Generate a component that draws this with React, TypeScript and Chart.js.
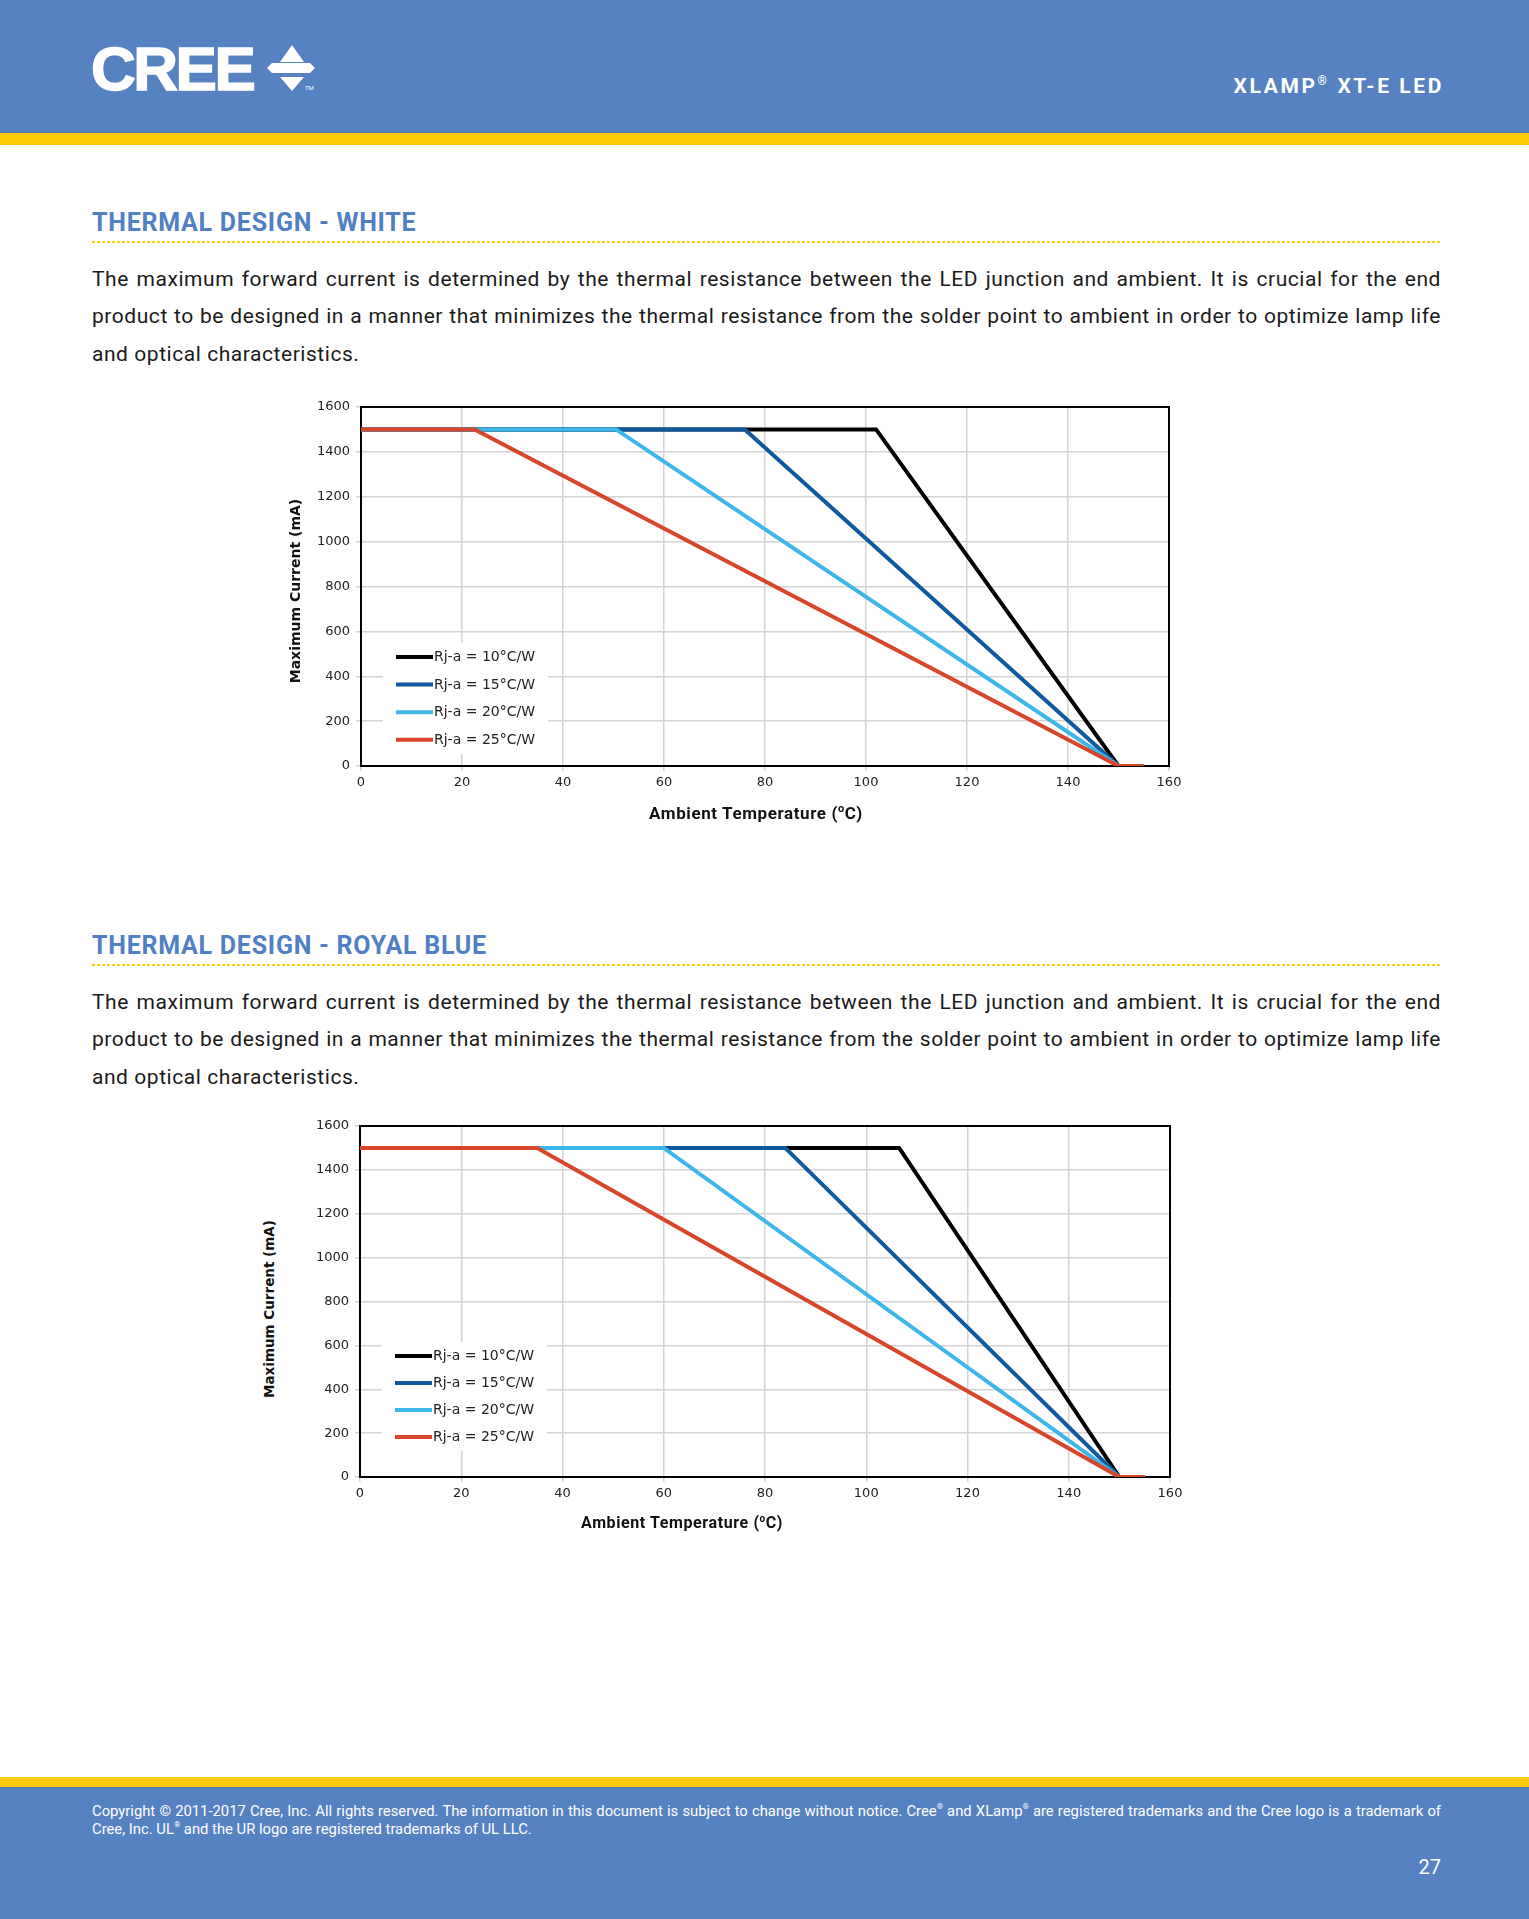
import React, { useEffect, useRef } from "react";
import { Chart, registerables } from "chart.js";

Chart.register(...registerables);

// ---------- data ----------
const SERIES_LABELS = ["Rj-a = 10°C/W", "Rj-a = 15°C/W", "Rj-a = 20°C/W", "Rj-a = 25°C/W"];
const SERIES_COLORS = ["#000000", "#0f5a9e", "#3db6ea", "#d8462a"];

// current limit profile (mA) shared by every curve: flat at max, then derated to 0
const LIMIT_CURRENT = [1500, 1500, 0, 0];

// White: ambient temperature (°C) break points
const WHITE_R10_T = [0, 102, 150, 155];
const WHITE_R15_T = [0, 76, 150, 155];
const WHITE_R20_T = [0, 50.5, 150, 155];
const WHITE_R25_T = [0, 22.5, 150, 155];

// Royal blue: ambient temperature (°C) break points
const ROYAL_R10_T = [0, 106.5, 150, 155];
const ROYAL_R15_T = [0, 84, 150, 155];
const ROYAL_R20_T = [0, 60, 150, 155];
const ROYAL_R25_T = [0, 35, 150, 155];

const X_MIN = 0;
const X_MAX = 160;
const X_STEP = 20;
const Y_MIN = 0;
const Y_MAX = 1600;
const Y_STEP = 200;

// ---------- styles ----------
const HEADER_BLUE = "#5682c2";
const YELLOW = "#ffcc06";
const TITLE_BLUE = "#5080c3";
const GRID = "#d4d4d4";

const frameplugin = {
  id: "frame",
  beforeDatasetsDraw(chart: any) {
    const { ctx, chartArea } = chart;
    ctx.save();
    ctx.strokeStyle = "#000";
    ctx.lineWidth = 2;
    ctx.strokeRect(chartArea.left, chartArea.top, chartArea.right - chartArea.left, chartArea.bottom - chartArea.top);
    ctx.restore();
  },
};

const insideLegend = {
  id: "insideLegend",
  afterDatasetsDraw(chart: any, _args: any, opts: any) {
    const { ctx, chartArea } = chart;
    const left = chartArea.left;
    const row1 = chartArea.bottom - opts.offsetBottom;
    const sp = opts.spacing;
    const n = chart.data.datasets.length;
    ctx.save();
    ctx.fillStyle = "#ffffff";
    ctx.fillRect(left + 22, row1 - 14, 165, (n - 1) * sp + 28);
    chart.data.datasets.forEach((ds: any, i: number) => {
      const y = row1 + i * sp;
      ctx.strokeStyle = ds.borderColor;
      ctx.lineWidth = 4;
      ctx.lineCap = "butt";
      ctx.beginPath();
      ctx.moveTo(left + 35, y);
      ctx.lineTo(left + 72, y);
      ctx.stroke();
      ctx.fillStyle = "#222";
      ctx.font = '14px "DejaVu Sans"';
      ctx.textBaseline = "middle";
      ctx.textAlign = "left";
      ctx.fillText(ds.label, left + 73, y + 0.5);
    });
    ctx.restore();
  },
};

type Geom = {
  left: number;
  top: number;
  width: number;
  height: number;
  padTop: number;
  padRight: number;
  yAxisW: number;
  xAxisH: number;
  legendOffset: number;
  legendSpacing: number;
};

function ThermalChart({ temps, geom }: { temps: number[][]; geom: Geom }) {
  const ref = useRef<HTMLCanvasElement | null>(null);
  useEffect(() => {
    if (!ref.current) return;
    const tickFont = { family: '"DejaVu Sans"', size: 13 };
    const chart = new Chart(ref.current, {
      type: "scatter",
      data: {
        datasets: temps.map((t, i) => ({
          label: SERIES_LABELS[i],
          data: t.map((x, j) => ({ x, y: LIMIT_CURRENT[j] })),
          showLine: true,
          borderColor: SERIES_COLORS[i],
          backgroundColor: SERIES_COLORS[i],
          borderWidth: 4,
          pointRadius: 0,
          tension: 0,
          order: 4 - i,
        })),
      },
      options: {
        responsive: false,
        animation: false,
        events: [],
        layout: { padding: { left: 0, top: geom.padTop, right: geom.padRight, bottom: 0 } },
        plugins: {
          legend: { display: false },
          tooltip: { enabled: false },
          insideLegend: { offsetBottom: geom.legendOffset, spacing: geom.legendSpacing },
        } as any,
        scales: {
          x: {
            type: "linear",
            min: X_MIN,
            max: X_MAX,
            ticks: {
              stepSize: X_STEP,
              font: tickFont,
              color: "#222",
              padding: 4,
              maxRotation: 0,
              autoSkip: false,
              callback: (v: any) => String(v),
            },
            grid: { color: GRID, lineWidth: 1.5, tickLength: 5 },
            border: { display: false },
            afterFit: (s: any) => {
              s.height = geom.xAxisH;
            },
          },
          y: {
            type: "linear",
            min: Y_MIN,
            max: Y_MAX,
            ticks: { stepSize: Y_STEP, font: tickFont, color: "#222", padding: 6, callback: (v: any) => String(v) },
            grid: { color: GRID, lineWidth: 1.5, tickLength: 5 },
            border: { display: false },
            afterFit: (s: any) => {
              s.width = geom.yAxisW;
            },
          },
        },
      },
      plugins: [frameplugin, insideLegend],
    } as any);
    return () => chart.destroy();
  }, []);
  return (
    <div style={{ position: "absolute", left: geom.left, top: geom.top, width: geom.width, height: geom.height }}>
      <canvas ref={ref} width={geom.width} height={geom.height} style={{ display: "block", width: geom.width, height: geom.height }} />
    </div>
  );
}

const PARA_LINES = [
  "The maximum forward current is determined by the thermal resistance between the LED junction and ambient. It is crucial for the end",
  "product to be designed in a manner that minimizes the thermal resistance from the solder point to ambient in order to optimize lamp life",
  "and optical characteristics.",
];

function Section({ dy, title }: { dy: number; title: string }) {
  return (
    <>
      <div
        style={{
          position: "absolute",
          left: 92,
          top: 208 + dy,
          lineHeight: "30px",
          fontSize: 25,
          fontWeight: 700,
          color: TITLE_BLUE,
          whiteSpace: "nowrap",
          letterSpacing: 0.75,
        }}
      >
        {title}
      </div>
      <div
        style={{
          position: "absolute",
          left: 92,
          top: 241 + dy,
          width: 1349,
          height: 2,
          background: `repeating-linear-gradient(to right, ${YELLOW} 0px, ${YELLOW} 3px, transparent 3px, transparent 5px)`,
        }}
      />
      {PARA_LINES.map((l, i) => (
        <div
          key={i}
          style={{
            position: "absolute",
            left: 92,
            top: 261 + dy + i * 37.3,
            width: 1349,
            lineHeight: "37px",
            fontSize: 21,
            letterSpacing: 0.55,
            color: "#1a1a1a",
            whiteSpace: "nowrap",
            textAlign: "justify",
            textAlignLast: i < 2 ? "justify" : "left",
          }}
        >
          {l}
        </div>
      ))}
    </>
  );
}

const supStyle = { fontSize: 8, verticalAlign: "top", lineHeight: "10px" } as const;

export default function App() {
  const g1: Geom = {
    left: 280, top: 390, width: 920, height: 450,
    padTop: 17, padRight: 31, yAxisW: 81, xAxisH: 74,
    legendOffset: 109, legendSpacing: 27.6,
  };
  const g2: Geom = {
    left: 280, top: 1110, width: 920, height: 450,
    padTop: 16, padRight: 30, yAxisW: 80, xAxisH: 83,
    legendOffset: 121, legendSpacing: 27,
  };
  return (
    <div
      style={{
        position: "absolute",
        left: 0,
        top: 0,
        width: 1529,
        height: 1919,
        background: "#fff",
        overflow: "hidden",
        fontFamily: "Roboto, sans-serif",
      }}
    >
      {/* header */}
      <div style={{ position: "absolute", left: 0, top: 0, width: 1529, height: 133, background: HEADER_BLUE }} />
      <div style={{ position: "absolute", left: 0, top: 133, width: 1529, height: 12, background: YELLOW }} />
      <div
        style={{
          position: "absolute",
          left: 91,
          top: 38,
          lineHeight: "62px",
          fontFamily: '"Liberation Sans", Arial, sans-serif',
          fontWeight: 700,
          fontSize: 62,
          letterSpacing: -2.5,
          color: "#fff",
          WebkitTextStroke: "1.5px #fff",
        }}
      >
        CREE
      </div>
      <svg style={{ position: "absolute", left: 260, top: 40 }} width={60} height={56}>
        <polygon points="32,5 20,22 44,22" fill="#fff" />
        <polygon points="7,28 12,23 50,23 55,28 50,33 12,33" fill="#fff" />
        <polygon points="20,37 44,37 32,51" fill="#fff" />
        <text x={45} y={50} fontSize={6} fill="#fff" fontFamily="Roboto">TM</text>
      </svg>
      <div
        style={{
          position: "absolute",
          right: 85,
          top: 74,
          lineHeight: "24px",
          fontSize: 21,
          fontWeight: 700,
          letterSpacing: 2.6,
          color: "#fff",
          whiteSpace: "nowrap",
        }}
      >
        XLAMP<sup style={{ fontSize: 12, verticalAlign: "top", lineHeight: "14px" }}>®</sup> XT-E LED
      </div>

      <Section dy={0} title="THERMAL DESIGN - WHITE" />
      <ThermalChart temps={[WHITE_R10_T, WHITE_R15_T, WHITE_R20_T, WHITE_R25_T]} geom={g1} />
      <div
        style={{
          position: "absolute",
          left: 295 - 150,
          top: 591 - 10,
          width: 300,
          lineHeight: "20px",
          textAlign: "center",
          fontFamily: '"DejaVu Sans"',
          fontWeight: 700,
          fontSize: 14,
          color: "#111",
          transform: "rotate(-90deg)",
          whiteSpace: "nowrap",
        }}
      >
        Maximum Current (mA)
      </div>
      <div
        style={{
          position: "absolute",
          left: 756 - 150,
          top: 813 - 11,
          width: 300,
          lineHeight: "22px",
          textAlign: "center",
          fontWeight: 700,
          fontSize: 17,
          letterSpacing: 0.6,
          color: "#111",
          whiteSpace: "nowrap",
        }}
      >
        Ambient Temperature (<sup style={{ fontSize: 11, verticalAlign: "top", lineHeight: "14px" }}>o</sup>C)
      </div>

      <Section dy={723} title="THERMAL DESIGN - ROYAL BLUE" />
      <ThermalChart temps={[ROYAL_R10_T, ROYAL_R15_T, ROYAL_R20_T, ROYAL_R25_T]} geom={g2} />
      <div
        style={{
          position: "absolute",
          left: 269 - 150,
          top: 1309 - 10,
          width: 300,
          lineHeight: "20px",
          textAlign: "center",
          fontFamily: '"DejaVu Sans"',
          fontWeight: 700,
          fontSize: 13.5,
          color: "#111",
          transform: "rotate(-90deg)",
          whiteSpace: "nowrap",
        }}
      >
        Maximum Current (mA)
      </div>
      <div
        style={{
          position: "absolute",
          left: 682 - 150,
          top: 1523 - 11,
          width: 300,
          lineHeight: "22px",
          textAlign: "center",
          fontWeight: 700,
          fontSize: 16,
          letterSpacing: 0.6,
          color: "#111",
          whiteSpace: "nowrap",
        }}
      >
        Ambient Temperature (<sup style={{ fontSize: 10, verticalAlign: "top", lineHeight: "13px" }}>o</sup>C)
      </div>

      {/* footer */}
      <div style={{ position: "absolute", left: 0, top: 1777, width: 1529, height: 10, background: YELLOW }} />
      <div style={{ position: "absolute", left: 0, top: 1787, width: 1529, height: 132, background: HEADER_BLUE }} />
      <div
        style={{
          position: "absolute",
          left: 92,
          top: 1802,
          width: 1349,
          lineHeight: "18px",
          fontSize: 14.8,
          color: "#fff",
          whiteSpace: "nowrap",
          textAlign: "justify",
          textAlignLast: "justify",
        }}
      >
        Copyright © 2011-2017 Cree, Inc. All rights reserved. The information in this document is subject to change without notice. Cree
        <sup style={supStyle}>®</sup> and XLamp<sup style={supStyle}>®</sup> are registered trademarks and the Cree logo is a trademark of
      </div>
      <div
        style={{
          position: "absolute",
          left: 92,
          top: 1820,
          width: 1349,
          lineHeight: "18px",
          fontSize: 14.8,
          color: "#fff",
          whiteSpace: "nowrap",
        }}
      >
        Cree, Inc. UL<sup style={supStyle}>®</sup> and the UR logo are registered trademarks of UL LLC.
      </div>
      <div
        style={{
          position: "absolute",
          right: 88,
          top: 1855,
          lineHeight: "24px",
          fontSize: 20,
          color: "#fff",
        }}
      >
        27
      </div>
    </div>
  );
}
